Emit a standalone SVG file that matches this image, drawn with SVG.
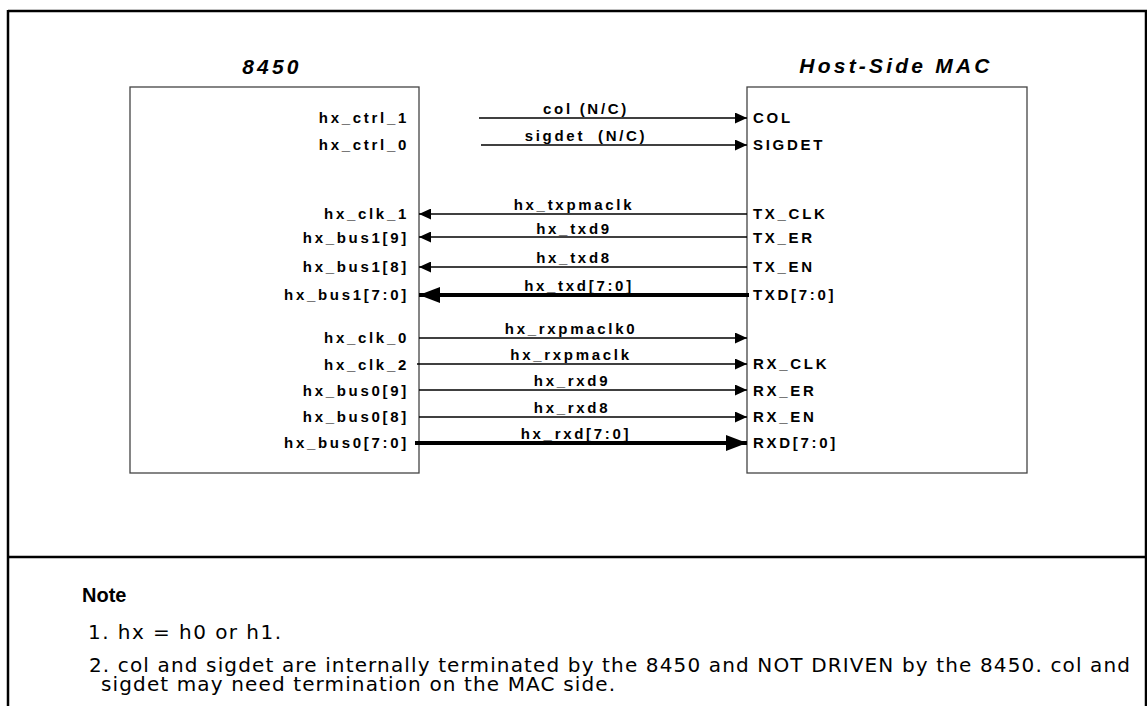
<svg xmlns="http://www.w3.org/2000/svg" width="1147" height="706" viewBox="0 0 1147 706">
<style>
.frame{fill:none;stroke:#000;stroke-width:2.5}
.box{fill:#fff;stroke:#444;stroke-width:1.3}
.title{font-family:"Liberation Sans",Arial,sans-serif;font-weight:bold;font-style:italic;font-size:21px;letter-spacing:3.2px;text-anchor:middle;fill:#000}
.pin{font-family:"Liberation Sans",Arial,sans-serif;font-weight:bold;font-size:15px;letter-spacing:2.7px;fill:#000}
.pl{text-anchor:end}
.sig{font-family:"Liberation Sans",Arial,sans-serif;font-weight:bold;font-size:15px;letter-spacing:2.7px;text-anchor:middle;fill:#000}
.w{fill:none;stroke:#000;stroke-width:1.4}
.bus{fill:none;stroke:#000;stroke-width:4}
.note{font-family:"DejaVu Sans",Verdana,sans-serif;font-size:20px;fill:#000}
.noteh{font-family:"Liberation Sans",Arial,sans-serif;font-weight:bold;font-size:20px;fill:#000}
</style>
<defs>
<marker id="a" markerUnits="userSpaceOnUse" markerWidth="13" markerHeight="11" refX="12" refY="5.5" orient="auto">
<path d="M0,0 L12,5.5 L0,11 Z" fill="#000"/>
</marker>
<marker id="b" markerUnits="userSpaceOnUse" markerWidth="22" markerHeight="16" refX="21" refY="8" orient="auto">
<path d="M0,0 L21,8 L0,16 Z" fill="#000"/>
</marker>
</defs>
<rect width="1147" height="706" fill="#fff"/>
<g id="frame">
<line class="frame" x1="8" y1="11" x2="1147" y2="11"/>
<line class="frame" x1="8" y1="10" x2="8" y2="706"/>
<line class="frame" x1="1146" y1="10" x2="1146" y2="706"/>
<line class="frame" x1="8" y1="557" x2="1147" y2="557"/>
</g>
<g id="node-8450">
<text class="title" x="272" y="74">8450</text>
<rect class="box" x="130" y="87" width="289" height="386"/>
<text class="pin pl" x="409" y="123">hx_ctrl_1</text>
<text class="pin pl" x="409" y="150">hx_ctrl_0</text>
<text class="pin pl" x="409" y="219">hx_clk_1</text>
<text class="pin pl" x="409" y="243">hx_bus1[9]</text>
<text class="pin pl" x="409" y="272">hx_bus1[8]</text>
<text class="pin pl" x="409" y="300">hx_bus1[7:0]</text>
<text class="pin pl" x="409" y="343">hx_clk_0</text>
<text class="pin pl" x="409" y="370">hx_clk_2</text>
<text class="pin pl" x="409" y="396">hx_bus0[9]</text>
<text class="pin pl" x="409" y="422">hx_bus0[8]</text>
<text class="pin pl" x="409" y="448">hx_bus0[7:0]</text>
</g>
<g id="node-mac">
<text class="title" x="896" y="73">Host-Side MAC</text>
<rect class="box" x="747" y="87" width="280" height="386"/>
<text class="pin" x="753" y="123">COL</text>
<text class="pin" x="753" y="150">SIGDET</text>
<text class="pin" x="753" y="219">TX_CLK</text>
<text class="pin" x="753" y="243">TX_ER</text>
<text class="pin" x="753" y="272">TX_EN</text>
<text class="pin" x="753" y="300">TXD[7:0]</text>
<text class="pin" x="753" y="369">RX_CLK</text>
<text class="pin" x="753" y="396">RX_ER</text>
<text class="pin" x="753" y="422">RX_EN</text>
<text class="pin" x="753" y="448">RXD[7:0]</text>
</g>
<g id="connectors">
<line class="w" x1="479" y1="118" x2="747" y2="118" marker-end="url(#a)"/>
<line class="w" x1="481" y1="145" x2="747" y2="145" marker-end="url(#a)"/>
<line class="w" x1="747" y1="214" x2="419" y2="214" marker-end="url(#a)"/>
<line class="w" x1="747" y1="237" x2="419" y2="237" marker-end="url(#a)"/>
<line class="w" x1="747" y1="267" x2="419" y2="267" marker-end="url(#a)"/>
<line class="bus" x1="749" y1="295" x2="419" y2="295" marker-end="url(#b)"/>
<line class="w" x1="419" y1="338" x2="747" y2="338" marker-end="url(#a)"/>
<line class="w" x1="417" y1="364" x2="747" y2="364" marker-end="url(#a)"/>
<line class="w" x1="419" y1="390" x2="747" y2="390" marker-end="url(#a)"/>
<line class="w" x1="419" y1="417" x2="747" y2="417" marker-end="url(#a)"/>
<line class="bus" x1="415" y1="443" x2="747" y2="443" marker-end="url(#b)"/>
<text class="sig" x="586" y="114">col (N/C)</text>
<text class="sig" x="586" y="141">sigdet <tspan dx="6">(N/C)</tspan></text>
<text class="sig" x="574" y="210">hx_txpmaclk</text>
<text class="sig" x="574" y="234">hx_txd9</text>
<text class="sig" x="574" y="263">hx_txd8</text>
<text class="sig" x="579" y="291">hx_txd[7:0]</text>
<text class="sig" x="571" y="334">hx_rxpmaclk0</text>
<text class="sig" x="571" y="360">hx_rxpmaclk</text>
<text class="sig" x="572" y="386">hx_rxd9</text>
<text class="sig" x="572" y="413">hx_rxd8</text>
<text class="sig" x="576" y="439">hx_rxd[7:0]</text>
</g>
<g id="notes">
<text class="noteh" x="82" y="602">Note</text>
<text class="note" x="88" y="639" textLength="193" lengthAdjust="spacing">1. hx = h0 or h1.</text>
<text class="note" x="89" y="672" textLength="1041" lengthAdjust="spacing">2. col and sigdet are internally terminated by the 8450 and NOT DRIVEN by the 8450. col and</text>
<text class="note" x="101" y="691" textLength="514" lengthAdjust="spacing">sigdet may need termination on the MAC side.</text>
</g>
</svg>
